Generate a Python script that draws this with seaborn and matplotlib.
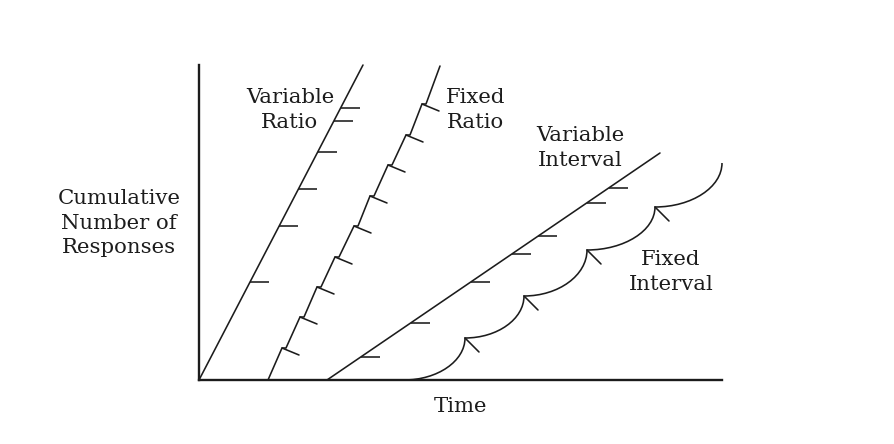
import numpy as np
import seaborn as sns
import matplotlib.pyplot as plt
from matplotlib.path import Path
from matplotlib.patches import PathPatch

# Cumulative records (time units, cumulative responses)
# Variable ratio: straight steep line, reinforcements at irregular counts
vr_time = [0, 164]
vr_resp = [0, 315]
vr_reinf = [98, 154, 191, 228, 259, 272]

# Fixed ratio: steep runs with a short pause after each reinforcement
fr_time = [69, 83, 87, 101, 105, 118, 122, 136, 140, 155, 159,
           171, 175, 189, 193, 207, 211, 223, 227, 241]
fr_resp = [0, 32, 32, 63, 63, 93, 93, 123, 123, 154, 154,
           184, 184, 215, 215, 245, 245, 276, 276, 314]
fr_reinf_time = [83, 101, 118, 136, 155, 171, 189, 207, 223]
fr_reinf_resp = [32, 63, 93, 123, 154, 184, 215, 245, 276]

# Variable interval: moderate steady rate
vi_time = [128, 461]
vi_resp = [0, 227]
vi_reinf = [23, 57, 98, 126, 144, 177, 192]

# Fixed interval: scallops, reinforcement at the end of each one
fi_time = [205, 266, 325, 388, 456, 523]
fi_resp = [0, 42, 84, 130, 173, 217]

labels = {
    "Variable\nRatio": (91, 270),
    "Fixed\nRatio": (277, 270),
    "Variable\nInterval": (381, 232),
    "Fixed\nInterval": (472, 108),
}

sns.set_style("white")
plt.rcParams['font.family'] = ['DejaVu Serif']

ink = "#1c1c1c"
lw = 1.15
fs = 15.3

fig = plt.figure(figsize=(8.94, 4.44), dpi=100)
ax = fig.add_axes([199 / 894, 64 / 444, 523 / 894, 315 / 444])

# main records
sns.lineplot(x=vr_time, y=vr_resp, ax=ax, color=ink, lw=lw, sort=False, clip_on=False)
sns.lineplot(x=fr_time, y=fr_resp, ax=ax, color=ink, lw=lw, sort=False, clip_on=False)
sns.lineplot(x=vi_time, y=vi_resp, ax=ax, color=ink, lw=lw, sort=False, clip_on=False)

# reinforcement marks on the variable schedules (short horizontal ticks)
vr_x = np.interp(vr_reinf, vr_resp, vr_time)
ax.hlines(vr_reinf, vr_x, vr_x + 19, color=ink, lw=lw)
vi_x = np.interp(vi_reinf, vi_resp, vi_time)
ax.hlines(vi_reinf, vi_x, vi_x + 19, color=ink, lw=lw)

# fixed ratio marks slant down to the right
for t, r in zip(fr_reinf_time, fr_reinf_resp):
    ax.plot([t, t + 17], [r, r - 7], color=ink, lw=lw)

# fixed interval scallops as bezier quarter curves
k = 0.55
verts = [(fi_time[0], fi_resp[0])]
codes = [Path.MOVETO]
for i in range(len(fi_time) - 1):
    x0, y0, x1, y1 = fi_time[i], fi_resp[i], fi_time[i + 1], fi_resp[i + 1]
    verts += [(x0 + k * (x1 - x0), y0), (x1, y1 - k * (y1 - y0)), (x1, y1)]
    codes += [Path.CURVE4] * 3
ax.add_patch(PathPatch(Path(verts, codes), fill=False, ec=ink, lw=lw, clip_on=False))
for t, r in zip(fi_time[1:-1], fi_resp[1:-1]):
    ax.plot([t, t + 14], [r, r - 14], color=ink, lw=lw)

for txt, (x, y) in labels.items():
    ax.text(x, y, txt, ha="center", va="center", fontsize=fs, color=ink, linespacing=1.4)

ax.text(-80, 157, "Cumulative\nNumber of\nResponses", ha="center", va="center",
        fontsize=fs, color=ink, linespacing=1.36)
ax.text(262, -26, "Time", ha="center", va="center", fontsize=fs, color=ink)

ax.set_xlim(0, 523)
ax.set_ylim(0, 315)
ax.set_xticks([])
ax.set_yticks([])
sns.despine(ax=ax)
for side in ["left", "bottom"]:
    ax.spines[side].set_color(ink)
    ax.spines[side].set_linewidth(1.7)

fig.savefig("out.png", dpi=100)
